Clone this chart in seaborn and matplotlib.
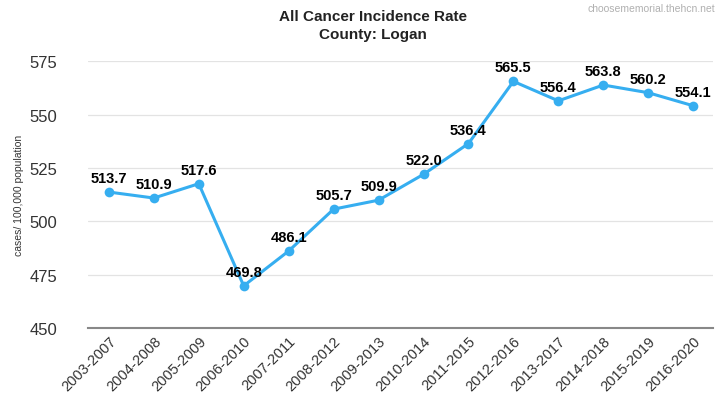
import pandas as pd
import matplotlib
matplotlib.use("Agg")
import matplotlib.pyplot as plt
import seaborn as sns

periods = ["2003-2007", "2004-2008", "2005-2009", "2006-2010", "2007-2011",
           "2008-2012", "2009-2013", "2010-2014", "2011-2015", "2012-2016",
           "2013-2017", "2014-2018", "2015-2019", "2016-2020"]
rates = [513.7, 510.9, 517.6, 469.8, 486.1, 505.7, 509.9, 522.0, 536.4,
         565.5, 556.4, 563.8, 560.2, 554.1]
y_ticks = [450, 475, 500, 525, 550, 575]

df = pd.DataFrame({"period": periods, "rate": rates})

sns.set_theme(style="white")
plt.rcParams["font.family"] = ["Liberation Sans", "DejaVu Sans"]

fig = plt.figure(figsize=(7.17, 4.14), dpi=100)
ax = fig.add_axes([0.123, 0.205, 0.872, 0.645])

line_color = "#36aef0"
sns.lineplot(data=df, x="period", y="rate", ax=ax, color=line_color,
             linewidth=2.2, marker="o", markersize=7, markeredgewidth=0,
             sort=False)

# value labels above each point
for i, v in enumerate(rates):
    ax.annotate(f"{v:.1f}", (i, v), xytext=(0, 5), textcoords="offset points",
                ha="center", va="bottom", fontsize=10.5, fontweight="bold",
                color="#000000")

ax.set_ylim(450, 575)
ax.set_yticks(y_ticks)
ax.set_xlim(-0.46, len(periods) - 0.55)
ax.yaxis.grid(True, color="#e3e3e3", linewidth=0.9)
ax.set_axisbelow(True)
for s in ["top", "right", "left"]:
    ax.spines[s].set_visible(False)
ax.spines["bottom"].set_color("#888888")
ax.spines["bottom"].set_linewidth(1.5)

ax.tick_params(axis="y", labelsize=12, colors="#333333", length=0, pad=22)
ax.tick_params(axis="x", labelsize=10.5, colors="#333333", length=0, pad=4)
plt.setp(ax.get_xticklabels(), rotation=45, ha="right", rotation_mode="anchor")

ax.set_xlabel("")
ax.set_ylabel("cases/ 100,000 population", fontsize=7.5, color="#333333",
              labelpad=4)

fig.suptitle("All Cancer Incidence Rate\nCounty: Logan", x=0.52, y=0.975,
             fontsize=11, fontweight="bold", color="#222222", linespacing=1.3)
fig.text(0.998, 0.99, "choosememorial.thehcn.net", ha="right", va="top",
         fontsize=7.5, color="#b0b0b0")

fig.savefig("out.png", dpi=100)
